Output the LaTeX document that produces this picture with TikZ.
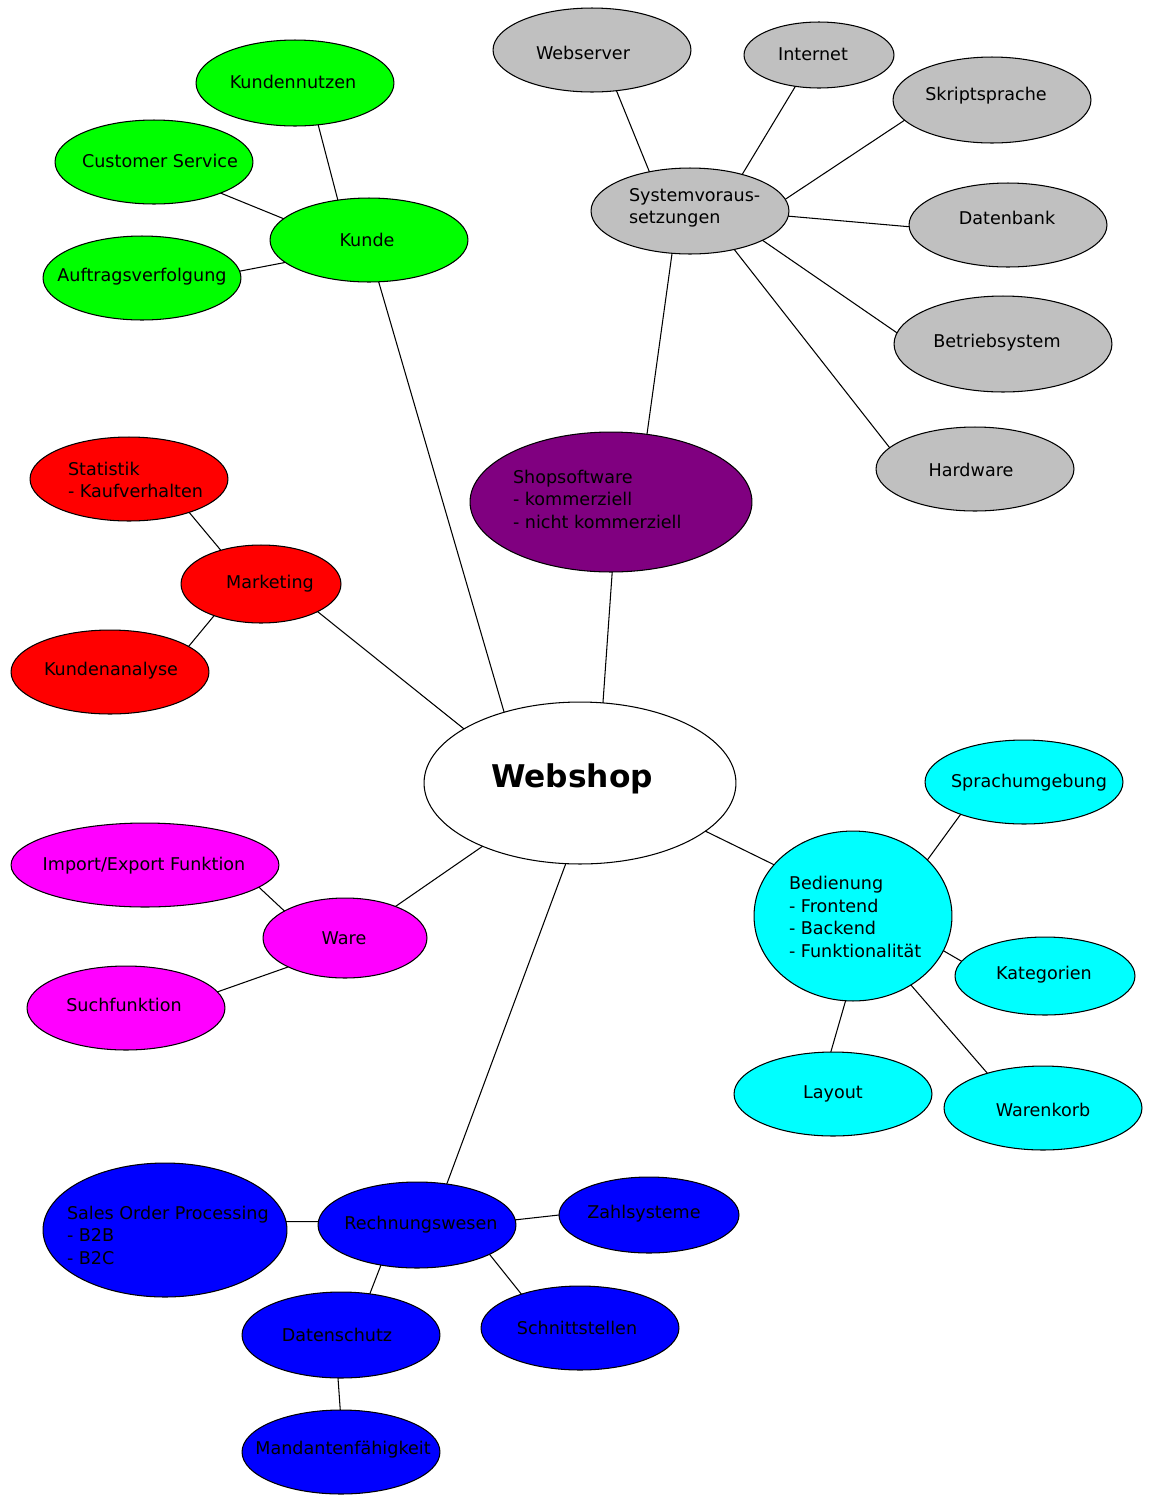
\documentclass[tikz,border=0pt]{standalone}
\usepackage{fontspec}
\setmainfont{DejaVu Sans}
\usetikzlibrary{shapes.geometric}
\definecolor{cgray}{HTML}{C0C0C0}
\definecolor{cgreen}{HTML}{00FF00}
\definecolor{cpurple}{HTML}{800080}
\definecolor{cred}{HTML}{FF0000}
\definecolor{cmag}{HTML}{FF00FF}
\definecolor{ccyan}{HTML}{00FFFF}
\definecolor{cblue}{HTML}{0000FF}
\tikzset{
  bub/.style n args={3}{ellipse, draw=black, line width=0.6pt, fill=#1,
    minimum width=#2*0.04cm, minimum height=#3*0.04cm, inner sep=0pt, outer sep=0pt},
  txt/.style={inner sep=0pt, outer sep=0pt, text=black, font=\fontsize{10}{12.8}\selectfont},
  ml/.style={txt, anchor=west, align=left},
  conn/.style={draw=black, line width=0.6pt}
}
\begin{document}
\begin{tikzpicture}[x=0.02cm, y=-0.02cm]
\useasboundingbox[fill=white] (0,0) rectangle (1158,1495);

% gray
\node[bub={cgray}{99}{42}] (webserver) at (592,50) {};
\node[bub={cgray}{75}{33}] (internet) at (819,55) {};
\node[bub={cgray}{99}{43}] (skript) at (992,100) {};
\node[bub={cgray}{99}{43}] (sysv) at (690,211) {};
\node[bub={cgray}{99}{42}] (datenbank) at (1008,225) {};
\node[bub={cgray}{109}{48}] (betrieb) at (1003,344) {};
\node[bub={cgray}{99}{42}] (hardware) at (975,469) {};
% purple
\node[bub={cpurple}{141}{70}] (shop) at (611,502) {};
% green
\node[bub={cgreen}{99}{43}] (nutzen) at (295,83) {};
\node[bub={cgreen}{99}{42}] (service) at (154,162) {};
\node[bub={cgreen}{99}{42}] (kunde) at (369,240) {};
\node[bub={cgreen}{99}{42}] (auftrag) at (142,278) {};
% red
\node[bub={cred}{99}{42}] (statistik) at (129,479) {};
\node[bub={cred}{80}{39}] (marketing) at (261,584) {};
\node[bub={cred}{99}{42}] (analyse) at (110,672) {};
% center
\node[bub={white}{156}{81}] (webshop) at (580,783) {};
% magenta
\node[bub={cmag}{134}{42}] (import) at (145,865) {};
\node[bub={cmag}{82}{40}] (ware) at (345,938) {};
\node[bub={cmag}{99}{42}] (such) at (126,1008) {};
% cyan
\node[bub={ccyan}{99}{42}] (sprach) at (1024,782) {};
\node[bub={ccyan}{99}{85}] (bedienung) at (853,916) {};
\node[bub={ccyan}{90}{39}] (kategorien) at (1045,976) {};
\node[bub={ccyan}{99}{42}] (layout) at (833,1094) {};
\node[bub={ccyan}{99}{42}] (warenkorb) at (1043,1108) {};
% blue
\node[bub={cblue}{122}{67}] (sales) at (165,1230) {};
\node[bub={cblue}{99}{43}] (rechnung) at (417,1225) {};
\node[bub={cblue}{90}{38}] (zahl) at (649,1215) {};
\node[bub={cblue}{99}{43}] (datenschutz) at (341,1335) {};
\node[bub={cblue}{99}{42}] (schnitt) at (580,1328) {};
\node[bub={cblue}{99}{42}] (mandant) at (341,1452) {};

% connectors
\draw[conn] (webserver.-59) -- (sysv.136);
\draw[conn] (internet.-127) -- (sysv.35);
\draw[conn] (skript.-167) -- (sysv.7);
\draw[conn] (datenbank.181) -- (sysv.-3);
\draw[conn] (betrieb.174) -- (sysv.-22);
\draw[conn] (hardware.166) -- (sysv.-41);
\draw[conn] (sysv.-113) -- (shop.62);
\draw[conn] (shop.-89) -- (webshop.74);
\draw[conn] (nutzen.-61) -- (kunde.128);
\draw[conn] (service.-25) -- (kunde.166);
\draw[conn] (auftrag.4) -- (kunde.-165);
\draw[conn] (kunde.-77) -- (webshop.137);
\draw[conn] (statistik.-29) -- (marketing.140);
\draw[conn] (analyse.18) -- (marketing.-146);
\draw[conn] (marketing.-26) -- (webshop.155);
\draw[conn] (webshop.-147) -- (ware.32);
\draw[conn] (import.-11) -- (ware.156);
\draw[conn] (such.10) -- (ware.-153);
\draw[conn] (webshop.-21) -- (bedienung.147);
\draw[conn] (sprach.-153) -- (bedienung.37);
\draw[conn] (bedienung.-21) -- (kategorien.170);
\draw[conn] (bedienung.-95) -- (layout.93);
\draw[conn] (bedienung.-50) -- (warenkorb.148);
\draw[conn] (webshop.-100) -- (rechnung.54);
\draw[conn] (sales.4) -- (rechnung.178);
\draw[conn] (rechnung.3) -- (zahl.180);
\draw[conn] (rechnung.-22) -- (schnitt.150);
\draw[conn] (rechnung.-132) -- (datenschutz.55);
\draw[conn] (datenschutz.-94) -- (mandant.91);

% texts
\node[txt] (webserver-t) at (583,53) {Webserver};
\node[txt] (internet-t) at (813,54) {Internet};
\node[txt] (skript-t) at (986,96) {Skriptsprache};
\node[ml] (sysv-t) at (629,208) {Systemvoraus-\\setzungen};
\node[txt] (datenbank-t) at (1007,218) {Datenbank};
\node[txt] (betrieb-t) at (997,343) {Betriebsystem};
\node[txt] (hardware-t) at (971,470) {Hardware};
\node[ml] (shop-t) at (513,499) {Shopsoftware\\- kommerziell\\- nicht kommerziell};
\node[txt] (nutzen-t) at (293,82) {Kundennutzen};
\node[txt] (service-t) at (160,161) {Customer Service};
\node[txt] (kunde-t) at (367,240) {Kunde};
\node[txt] (auftrag-t) at (142,277) {Auftragsverfolgung};
\node[ml] (statistik-t) at (68,480) {Statistik\\- Kaufverhalten};
\node[txt] (marketing-t) at (270,584) {Marketing};
\node[txt] (analyse-t) at (111,671) {Kundenanalyse};
\node[txt, font=\bfseries\fontsize{17.8}{20}\selectfont] (webshop-t) at (572,779) {Webshop};
\node[txt] (import-t) at (144,866) {Import/Export Funktion};
\node[txt] (ware-t) at (344,938) {Ware};
\node[txt] (such-t) at (124,1005) {Suchfunktion};
\node[txt] (sprach-t) at (1029,783) {Sprachumgebung};
\node[ml] (bedienung-t) at (789,917) {Bedienung\\- Frontend\\- Backend\\- Funktionalität};
\node[txt] (kategorien-t) at (1044,975) {Kategorien};
\node[txt] (layout-t) at (833,1094) {Layout};
\node[txt] (warenkorb-t) at (1043,1110) {Warenkorb};
\node[ml] (sales-t) at (67,1235) {Sales Order Processing\\- B2B\\- B2C};
\node[txt] (rechnung-t) at (421,1225) {Rechnungswesen};
\node[txt] (zahl-t) at (644,1214) {Zahlsysteme};
\node[txt] (datenschutz-t) at (337,1335) {Datenschutz};
\node[txt] (schnitt-t) at (577,1328) {Schnittstellen};
\node[txt] (mandant-t) at (343,1450) {Mandantenfähigkeit};
\end{tikzpicture}
\end{document}
